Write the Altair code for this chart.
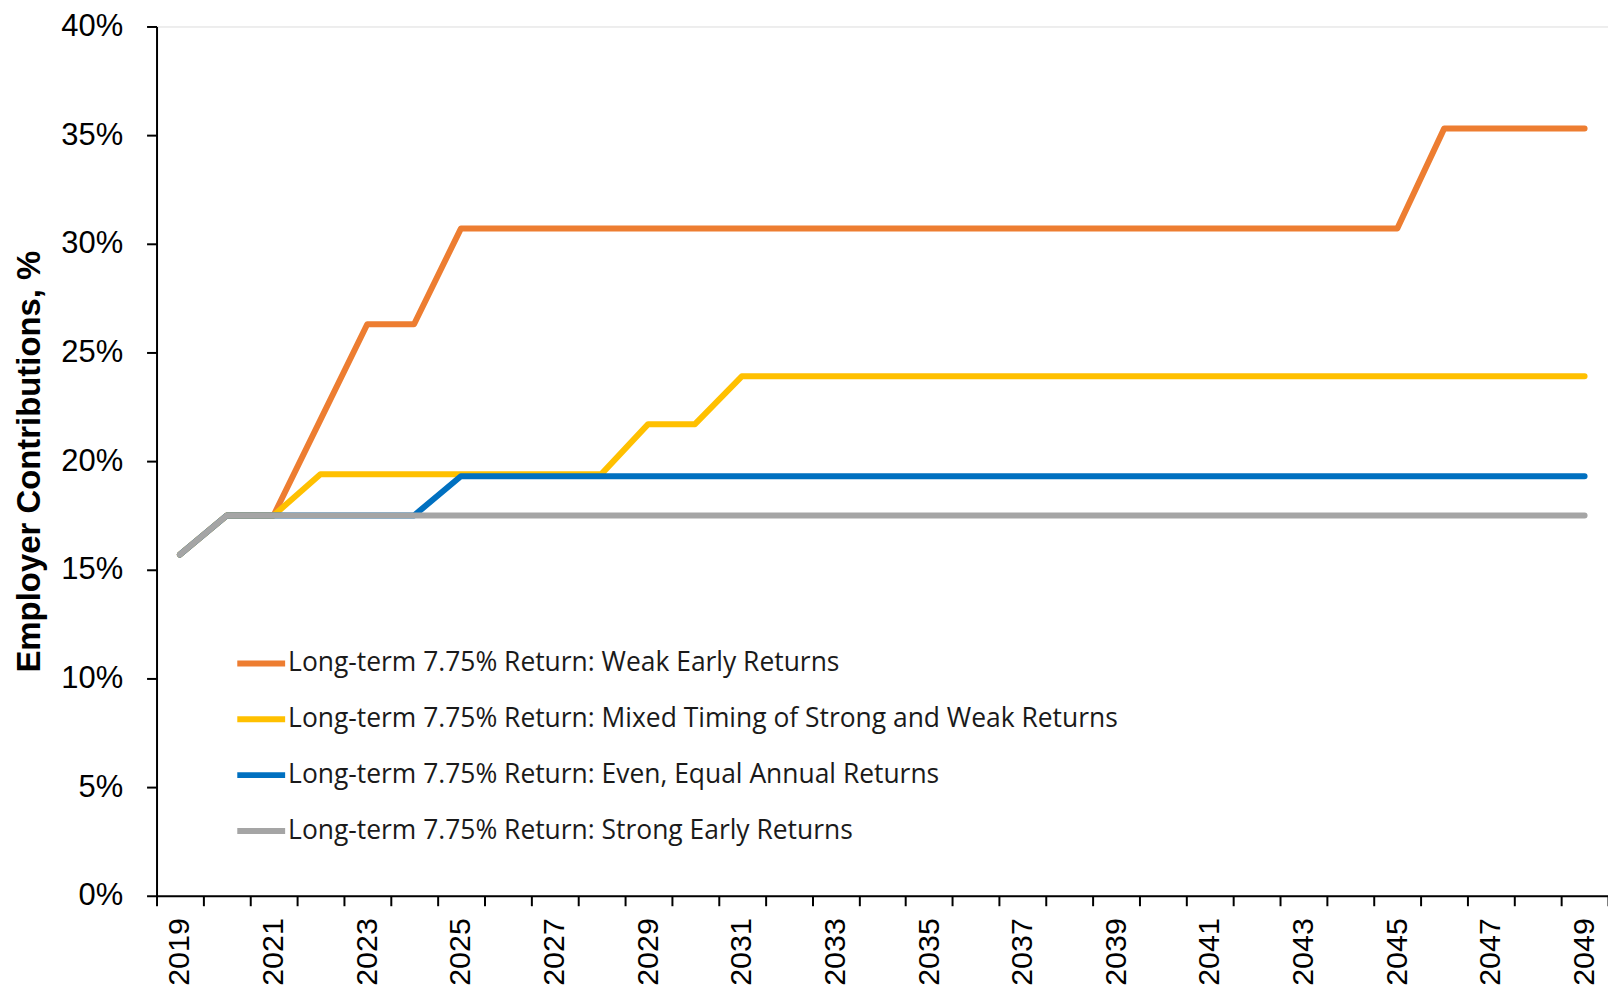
import altair as alt
import pandas as pd

years = list(range(2019, 2050))

series_names = [
    "Long-term 7.75% Return: Weak Early Returns",
    "Long-term 7.75% Return: Mixed Timing of Strong and Weak Returns",
    "Long-term 7.75% Return: Even, Equal Annual Returns",
    "Long-term 7.75% Return: Strong Early Returns",
]
series_colors = ["#ED7D31", "#FFC000", "#0070C0", "#A5A5A5"]

weak_early = [15.7, 17.5, 17.5, 21.9, 26.3, 26.3,
              30.7, 30.7, 30.7, 30.7, 30.7, 30.7, 30.7, 30.7, 30.7, 30.7,
              30.7, 30.7, 30.7, 30.7, 30.7, 30.7, 30.7, 30.7, 30.7, 30.7, 30.7,
              35.3, 35.3, 35.3, 35.3]
mixed = [15.7, 17.5, 17.5,
         19.4, 19.4, 19.4, 19.4, 19.4, 19.4, 19.4,
         21.7, 21.7,
         23.9, 23.9, 23.9, 23.9, 23.9, 23.9, 23.9, 23.9, 23.9, 23.9,
         23.9, 23.9, 23.9, 23.9, 23.9, 23.9, 23.9, 23.9, 23.9]
even = [15.7, 17.5, 17.5, 17.5, 17.5, 17.5,
        19.3, 19.3, 19.3, 19.3, 19.3, 19.3, 19.3, 19.3, 19.3, 19.3,
        19.3, 19.3, 19.3, 19.3, 19.3, 19.3, 19.3, 19.3, 19.3, 19.3,
        19.3, 19.3, 19.3, 19.3, 19.3]
strong_early = [15.7, 17.5, 17.5, 17.5, 17.5, 17.5, 17.5, 17.5, 17.5, 17.5,
                17.5, 17.5, 17.5, 17.5, 17.5, 17.5, 17.5, 17.5, 17.5, 17.5,
                17.5, 17.5, 17.5, 17.5, 17.5, 17.5, 17.5, 17.5, 17.5, 17.5, 17.5]

all_series = [weak_early, mixed, even, strong_early]

rows = []
for i, (name, vals) in enumerate(zip(series_names, all_series)):
    for y, v in zip(years, vals):
        rows.append({"year": y, "value": v / 100.0, "series": name, "order": i})
df = pd.DataFrame(rows)

half_ticks = [y - 0.5 for y in years] + [years[-1] + 0.5]
tick_values = sorted(half_ticks + years)

chart = alt.Chart(df).mark_line(strokeWidth=6, strokeCap="round", strokeJoin="round").encode(
    x=alt.X(
        "year:Q",
        scale=alt.Scale(domain=[years[0] - 0.5, years[-1] + 0.5], nice=False, zero=False),
        axis=alt.Axis(
            values=tick_values,
            title=None,
            grid=False,
            labelAngle=-90,
            labelExpr="datum.value % 2 == 1 ? '' + datum.value : ''",
            labelOverlap=False,
            labelFont="Liberation Sans",
            labelFontSize=30.5,
            labelColor="#000000",
            labelPadding=12,
            tickSize=10,
            tickWidth=2,
            tickColor="#000000",
            tickOpacity={"condition": {"test": "datum.value % 1 != 0", "value": 1}, "value": 0},
            domainColor="#000000",
            domainWidth=2,
        ),
    ),
    y=alt.Y(
        "value:Q",
        scale=alt.Scale(domain=[0, 0.40], nice=False),
        axis=alt.Axis(
            values=[0, 0.05, 0.10, 0.15, 0.20, 0.25, 0.30, 0.35, 0.40],
            format=".0%",
            title="Employer Contributions, %",
            titleFont="Liberation Sans",
            titleFontSize=33,
            titleFontWeight="bold",
            titleColor="#000000",
            titlePadding=14,
            grid=False,
            labelFont="Liberation Sans",
            labelFontSize=31,
            labelColor="#000000",
            labelPadding=24,
            tickSize=10,
            tickWidth=2,
            tickColor="#000000",
            domainColor="#000000",
            domainWidth=2,
        ),
    ),
    color=alt.Color(
        "series:N",
        scale=alt.Scale(domain=series_names, range=series_colors),
        legend=alt.Legend(
            title=None,
            orient="none",
            legendX=78,
            legendY=612,
            symbolType="stroke",
            symbolStrokeWidth=6,
            symbolSize=2304,
            labelFont="Open Sans",
            labelFontSize=26.5,
            labelColor="#1a1a1a",
            labelLimit=1200,
            labelOffset=0,
            rowPadding=15,
            padding=0,
        ),
    ),
    order=alt.Order("order:Q"),
    detail="series:N",
).properties(
    width=1456,
    height=872,
    autosize=alt.AutoSizeParams(type="none"),
    padding={"left": 149, "top": 17, "right": 0, "bottom": 90},
).configure_view(stroke=None).configure(background="white")

chart.save("out.html", embed_options={"renderer": "svg", "actions": False})
